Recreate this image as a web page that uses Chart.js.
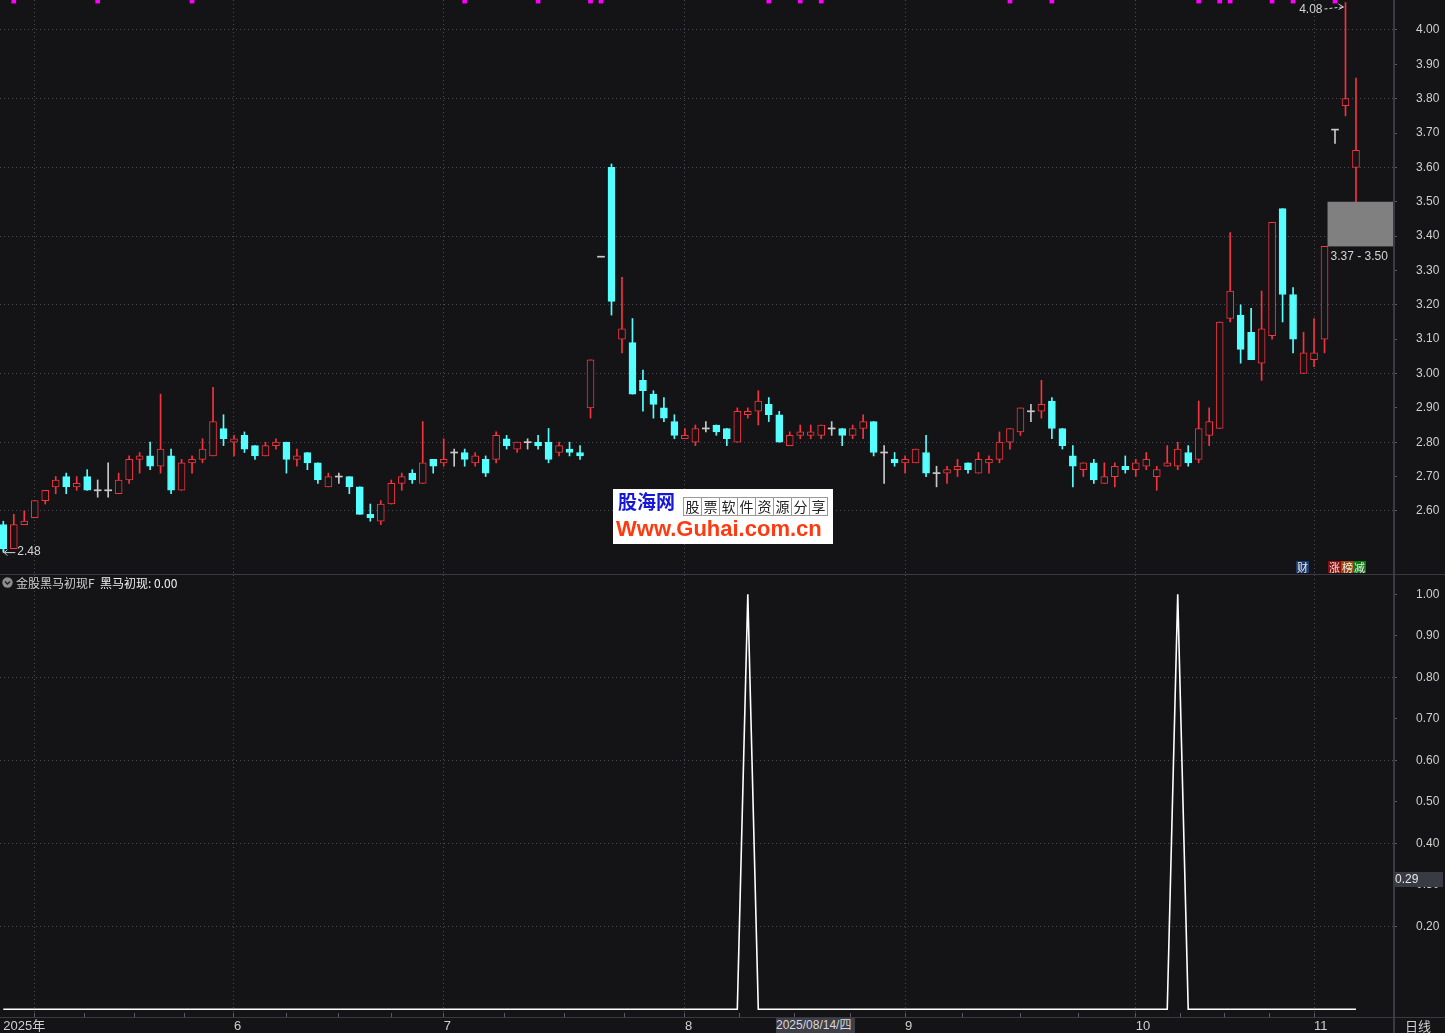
<!DOCTYPE html>
<html><head><meta charset="utf-8">
<script src="https://cdn.jsdelivr.net/npm/chart.js@4.4.0/dist/chart.umd.min.js"></script>
<style>
html,body{margin:0;padding:0;background:#141416;width:1445px;height:1033px;overflow:hidden;position:relative;
 font-family:"Liberation Sans","Noto Sans CJK SC",sans-serif;}
canvas{position:absolute;left:0;}
#top{top:0;}
#bot{top:575px;}
.ln{position:absolute;background:#3a3a44;}
.txt{position:absolute;white-space:nowrap;color:#cfcfcf;font-size:12px;line-height:14px;}
.tag{position:absolute;top:561px;height:12px;width:13px;font:11px/12px "Noto Sans CJK SC";color:#e8e8e8;text-align:center;}
#wm{position:absolute;left:613px;top:489px;width:220px;height:55px;background:#fff;}
#wm .a{position:absolute;left:5px;top:1px;font:bold 19px/22px "Noto Sans CJK SC";color:#1616d8;}
#wm .cells{position:absolute;left:71px;top:8px;display:flex;}
#wm .cells span{display:block;width:17px;height:17px;border:1px solid #9a9a9a;margin-left:-1px;font:14px/17px "Noto Sans CJK SC";color:#222;text-align:center;}
#wm .b{position:absolute;left:3px;top:27px;font:bold 22px/26px "Liberation Sans",Arial,sans-serif;color:#ff3a10;}
</style></head>
<body>
<canvas id="top" width="1445" height="574"></canvas>
<canvas id="bot" width="1445" height="458"></canvas>

<div class="ln" style="left:0;top:574px;width:1445px;height:1px;"></div>
<div class="ln" style="left:0;top:1017px;width:1445px;height:1px;"></div>
<div class="ln" style="left:1393px;top:0;width:2px;height:1033px;"></div>

<div id="wm"><div class="a">股海网</div>
<div class="cells"><span>股</span><span>票</span><span>软</span><span>件</span><span>资</span><span>源</span><span>分</span><span>享</span></div>
<div class="b">Www.Guhai.com.cn</div></div>

<div class="tag" style="left:1296px;background:#1b3b6c;">财</div>
<div class="tag" style="left:1328px;background:#8a0c0c;">涨</div>
<div class="tag" style="left:1341px;background:#9a4a0c;">榜</div>
<div class="tag" style="left:1353px;background:#0b7a12;">减</div>

<svg style="position:absolute;left:2px;top:577px" width="11" height="11"><circle cx="5.5" cy="5.5" r="5.2" fill="#8c8c8c"/><path d="M3 4.5 L5.5 7 L8 4.5" stroke="#1e1e1e" stroke-width="1.4" fill="none"/></svg>
<div class="txt" style="left:16px;top:576px;font-family:'Noto Sans CJK SC';">金股黑马初现F&nbsp; <span style="color:#f0f0f0">黑马初现: 0.00</span></div>

<div class="txt" style="left:776px;top:1018px;height:15px;width:79px;background:#3e3e48;color:#d8d8d8;font-family:'Liberation Sans','Noto Sans CJK SC';line-height:15px;">2025/08/14/四</div>
<div class="txt" style="left:1405px;top:1018px;font-family:'Noto Sans CJK SC';font-size:13px;line-height:15px;">日线</div>
<div class="txt" style="left:1395px;top:872px;width:48px;height:15px;background:#3a3a44;color:#e6e6e6;line-height:15px;font-family:'Liberation Sans';font-size:12px;">0.29</div>

<script>
// ---------------- data ----------------
const open = [
 2.56,2.49,2.56,2.58,2.63,2.67,2.70,2.67,2.70,2.66,
 2.66,2.65,2.69,2.75,2.76,2.73,2.76,2.66,2.74,2.75,
 2.76,2.84,2.80,2.82,2.79,2.76,2.79,2.80,2.75,2.77,
 2.74,2.67,2.70,2.70,2.67,2.59,2.57,2.62,2.68,2.71,
 2.68,2.75,2.74,2.77,2.77,2.74,2.75,2.75,2.81,2.78,
 2.80,2.80,2.80,2.77,2.78,2.77,2.90,3.34,3.60,3.10,
 3.09,2.98,2.94,2.90,2.86,2.81,2.80,2.84,2.85,2.84,
 2.80,2.88,2.89,2.91,2.88,2.79,2.82,2.82,2.82,2.84,
 2.84,2.82,2.84,2.86,2.77,2.75,2.74,2.74,2.77,2.71,
 2.71,2.72,2.74,2.71,2.74,2.75,2.80,2.83,2.89,2.89,
 2.92,2.84,2.76,2.72,2.74,2.68,2.70,2.73,2.72,2.73,
 2.70,2.73,2.73,2.77,2.75,2.82,2.84,3.16,3.17,3.12,
 3.03,3.11,3.48,3.23,3.00,3.04,3.10,3.71,3.78,3.60];
const high = [
 2.57,2.59,2.60,2.63,2.66,2.70,2.71,2.70,2.72,2.69,
 2.74,2.71,2.76,2.77,2.80,2.94,2.78,2.75,2.76,2.81,
 2.96,2.88,2.82,2.83,2.79,2.80,2.81,2.80,2.78,2.77,
 2.74,2.71,2.71,2.70,2.67,2.62,2.63,2.69,2.71,2.72,
 2.86,2.75,2.81,2.78,2.78,2.77,2.76,2.83,2.82,2.80,
 2.81,2.82,2.84,2.80,2.80,2.79,3.04,3.34,3.61,3.28,
 3.16,3.01,2.95,2.93,2.88,2.84,2.85,2.86,2.85,2.84,
 2.90,2.90,2.95,2.93,2.89,2.83,2.85,2.85,2.85,2.86,
 2.84,2.85,2.88,2.86,2.79,2.77,2.76,2.78,2.82,2.73,
 2.73,2.75,2.74,2.77,2.76,2.83,2.84,2.90,2.91,2.98,
 2.93,2.84,2.79,2.74,2.75,2.74,2.74,2.76,2.75,2.77,
 2.73,2.79,2.80,2.79,2.92,2.90,3.15,3.41,3.20,3.19,
 3.24,3.44,3.48,3.25,3.12,3.16,3.37,3.71,4.08,3.86];
const low = [
 2.48,2.49,2.56,2.58,2.62,2.65,2.65,2.66,2.66,2.64,
 2.64,2.65,2.68,2.71,2.72,2.71,2.65,2.66,2.71,2.74,
 2.76,2.79,2.76,2.77,2.75,2.76,2.78,2.71,2.73,2.72,
 2.68,2.67,2.68,2.65,2.59,2.57,2.56,2.62,2.66,2.68,
 2.68,2.71,2.73,2.73,2.73,2.73,2.70,2.74,2.78,2.77,
 2.78,2.78,2.74,2.76,2.76,2.75,2.87,3.34,3.17,3.06,
 2.94,2.89,2.87,2.86,2.81,2.81,2.79,2.83,2.82,2.79,
 2.80,2.87,2.85,2.86,2.80,2.79,2.81,2.81,2.81,2.82,
 2.79,2.81,2.81,2.76,2.68,2.73,2.71,2.74,2.70,2.67,
 2.68,2.70,2.71,2.71,2.71,2.74,2.78,2.82,2.86,2.87,
 2.81,2.78,2.67,2.70,2.68,2.68,2.67,2.71,2.70,2.72,
 2.66,2.73,2.72,2.73,2.74,2.79,2.84,3.15,3.03,3.04,
 2.98,3.10,3.15,3.06,3.00,3.02,3.06,3.67,3.75,3.50];
const close = [
 2.49,2.56,2.57,2.63,2.66,2.69,2.67,2.68,2.66,2.66,
 2.66,2.69,2.75,2.76,2.73,2.78,2.66,2.74,2.75,2.78,
 2.86,2.81,2.81,2.78,2.76,2.79,2.80,2.75,2.76,2.74,
 2.69,2.70,2.70,2.67,2.59,2.58,2.62,2.68,2.70,2.69,
 2.74,2.73,2.75,2.77,2.75,2.76,2.71,2.82,2.79,2.80,
 2.80,2.79,2.75,2.79,2.77,2.76,3.04,3.34,3.21,3.13,
 2.94,2.95,2.91,2.87,2.82,2.82,2.84,2.84,2.83,2.81,
 2.89,2.89,2.92,2.88,2.80,2.82,2.83,2.83,2.85,2.84,
 2.82,2.84,2.86,2.77,2.77,2.74,2.75,2.78,2.71,2.71,
 2.72,2.73,2.72,2.75,2.75,2.80,2.84,2.90,2.89,2.91,
 2.84,2.79,2.73,2.74,2.69,2.70,2.73,2.72,2.74,2.75,
 2.72,2.74,2.78,2.74,2.84,2.86,3.15,3.24,3.07,3.04,
 3.13,3.44,3.23,3.10,3.06,3.06,3.37,3.71,3.80,3.65];
// indicator 黑马初现
const signal = [
 0,0,0,0,0,0,0,0,0,0, 0,0,0,0,0,0,0,0,0,0,
 0,0,0,0,0,0,0,0,0,0, 0,0,0,0,0,0,0,0,0,0,
 0,0,0,0,0,0,0,0,0,0, 0,0,0,0,0,0,0,0,0,0,
 0,0,0,0,0,0,0,0,0,0, 0,1,0,0,0,0,0,0,0,0,
 0,0,0,0,0,0,0,0,0,0, 0,0,0,0,0,0,0,0,0,0,
 0,0,0,0,0,0,0,0,0,0, 0,0,1,0,0,0,0,0,0,0,
 0,0,0,0,0,0,0,0,0,0];
// first trading day of each month (candle index) and labels
const monthStarts = [3, 22, 42, 65, 86, 108, 125];
const monthLabels = ['', '6', '7', '8', '9', '10', '11'];
const yearLabel = '2025年';
const priceTicks = [2.60,2.70,2.80,2.90,3.00,3.10,3.20,3.30,3.40,3.50,3.60,3.70,3.80,3.90,4.00];
const signalTicks = [0.20,0.30,0.40,0.50,0.60,0.70,0.80,0.90,1.00];
const topMarks = [1, 9, 18, 44, 51, 56, 57, 73, 76, 78, 96, 100, 114, 116, 117, 121, 123, 127];
const gapFrom = 126, gapLow = 3.37, gapHigh = 3.50;
const lowMark = {i: 0, v: 2.48};
const highMark = {i: 128, v: 4.08};

// ---------------- styling ----------------
const RED = '#f5333f', CYAN = '#55ffff', GRAY = '#c8c8c8', BG = '#141416';
const GRIDC = '#4a4a54', TICKC = '#5a5a66', LABC = '#cfcfcf';
const NUMFONT = '"Liberation Sans","Noto Sans CJK SC",sans-serif';
Chart.defaults.font.family = NUMFONT;
Chart.defaults.font.size = 12;
Chart.defaults.color = LABC;

const N = close.length;
const XMIN = -0.3147, XMAX = 132.53;
const YMIN = 2.4163, YMAX = 4.0873;
const BMIN = -0.0089, BMAX = 1.0465;
const idx = [...Array(N).keys()];
const col = i => close[i] > open[i] ? RED : (close[i] < open[i] ? CYAN : GRAY);

const bodyData = idx.map(i => ({x: i, y: open[i] === close[i]
  ? [open[i] - 0.0015, open[i] + 0.0015]
  : [Math.min(open[i], close[i]), Math.max(open[i], close[i])]}));
const wickData = idx.map(i => ({x: i, y: [low[i], high[i]]}));
const markData = topMarks.map(i => ({x: i, y: [YMAX - 0.009, YMAX]}));

const noPadY = s => { s.width = 52; s.paddingTop = 0; s.paddingBottom = 0; s.paddingLeft = 0; s.paddingRight = 0; };

const annot = {
  id: 'annot',
  beforeDatasetsDraw(chart) {
    const {ctx, chartArea, scales: {x, y}} = chart;
    const x1 = x.getPixelForValue(gapFrom) + 3;
    const yt = y.getPixelForValue(gapHigh), yb = y.getPixelForValue(gapLow);
    ctx.save();
    ctx.fillStyle = '#808080';
    ctx.fillRect(x1, yt, chartArea.right - x1, yb - yt);
    ctx.restore();
  },
  afterDatasetsDraw(chart) {
    const {ctx, scales: {x, y}} = chart;
    ctx.save();
    ctx.font = '12px ' + NUMFONT;
    ctx.fillStyle = '#d4d4d4';
    const x1 = x.getPixelForValue(gapFrom) + 3;
    const yb = y.getPixelForValue(gapLow);
    ctx.textBaseline = 'top'; ctx.textAlign = 'left';
    ctx.fillText(gapLow.toFixed(2) + ' - ' + gapHigh.toFixed(2), x1 + 3, yb + 4);
    const lx = x.getPixelForValue(lowMark.i), ly = y.getPixelForValue(lowMark.v);
    ctx.textBaseline = 'middle';
    ctx.fillText(lowMark.v.toFixed(2), lx + 14, ly);
    ctx.strokeStyle = '#d4d4d4'; ctx.lineWidth = 1;
    ctx.beginPath();
    ctx.moveTo(lx + 1, ly + 0.5); ctx.lineTo(lx + 12, ly + 0.5);
    ctx.moveTo(lx + 1, ly + 0.5); ctx.lineTo(lx + 4, ly - 2.5);
    ctx.moveTo(lx + 1, ly + 0.5); ctx.lineTo(lx + 4, ly + 3.5);
    ctx.moveTo(lx + 0.5, ly - 4); ctx.lineTo(lx + 0.5, ly + 1);
    ctx.stroke();
    const hx = x.getPixelForValue(highMark.i), hy = y.getPixelForValue(highMark.v);
    ctx.textAlign = 'right';
    ctx.fillText(highMark.v.toFixed(2), hx - 23, hy + 7);
    ctx.setLineDash([3, 2]);
    ctx.beginPath(); ctx.moveTo(hx - 21, hy + 6.5); ctx.lineTo(hx - 3, hy + 4.5); ctx.stroke();
    ctx.setLineDash([]);
    ctx.beginPath(); ctx.moveTo(hx - 7, hy + 1.5); ctx.lineTo(hx - 2, hy + 4.5); ctx.lineTo(hx - 7, hy + 7); ctx.stroke();
    ctx.restore();
  }
};

new Chart(document.getElementById('top'), {
  type: 'bar',
  data: {
    datasets: [
      {data: markData, backgroundColor: '#ff00ff', barThickness: 4, grouped: false, order: 0},
      {data: bodyData, backgroundColor: idx.map(i => close[i] > open[i] ? BG : col(i)),
       borderColor: idx.map(col), borderWidth: idx.map(i => open[i] === close[i] ? 0 : 1),
       borderSkipped: false, barThickness: 7, grouped: false, order: 1},
      {data: wickData, backgroundColor: idx.map(col), barThickness: 1, grouped: false, order: 2}
    ]
  },
  options: {
    responsive: false, animation: false,
    layout: {padding: 0, autoPadding: false},
    plugins: {legend: {display: false}, tooltip: {enabled: false}},
    scales: {
      x: {type: 'linear', min: XMIN, max: XMAX, offset: false,
          afterBuildTicks: s => { s.ticks = monthStarts.map(v => ({value: v})); },
          afterFit: s => { s.height = 0; s.paddingLeft = 0; s.paddingRight = 0; s.paddingTop = 0; s.paddingBottom = 0; },
          ticks: {display: false},
          grid: {color: GRIDC, drawTicks: false, lineWidth: 1, offset: false},
          border: {display: false, dash: [1, 3]}},
      y: {type: 'linear', position: 'right', min: YMIN, max: YMAX,
          afterBuildTicks: s => { s.ticks = priceTicks.map(v => ({value: v})); },
          afterFit: noPadY,
          ticks: {callback: v => Number(v).toFixed(2), padding: 19, color: LABC, font: {size: 12}},
          grid: {color: c => (Math.round(c.tick.value * 10) % 2 === 0) ? GRIDC : 'transparent',
                 tickColor: TICKC, tickLength: 4, drawTicks: true, offset: false},
          border: {display: false, dash: [1, 3]}}
    }
  },
  plugins: [annot]
});

// bottom panel
const quarterTicks = [];
for (let k = 0; k < monthStarts.length - 1; k++) {
  const a = monthStarts[k], b = monthStarts[k + 1];
  for (let q = 1; q < 4; q++) quarterTicks.push(a + (b - a) * q / 4);
}
const xTickVals = [0, ...monthStarts, ...quarterTicks];
const labelFor = v => {
  if (v === 0) return yearLabel;
  const m = monthStarts.indexOf(v);
  return m >= 0 ? monthLabels[m] : '';
};

new Chart(document.getElementById('bot'), {
  type: 'line',
  data: {
    datasets: [{data: idx.map(i => ({x: i, y: signal[i]})), borderColor: '#ffffff', borderWidth: 1.6,
                pointRadius: 0, tension: 0, fill: false}]
  },
  options: {
    responsive: false, animation: false,
    layout: {padding: 0, autoPadding: false},
    plugins: {legend: {display: false}, tooltip: {enabled: false}},
    scales: {
      x: {type: 'linear', min: XMIN, max: XMAX, offset: false,
          afterBuildTicks: s => { s.ticks = xTickVals.map(v => ({value: v})); },
          afterFit: s => { s.height = 20; s.paddingLeft = 0; s.paddingRight = 0; s.paddingTop = 0; s.paddingBottom = 0; },
          ticks: {callback: v => labelFor(v), autoSkip: false, maxRotation: 0, minRotation: 0,
                  align: 'start', padding: 2, color: LABC, font: {size: 13}},
          grid: {color: c => monthStarts.includes(c.tick.value) ? GRIDC : 'transparent',
                 tickColor: c => c.tick.value === 0 ? 'transparent' : TICKC, tickLength: 4, drawTicks: true, offset: false},
          border: {display: false, dash: [1, 3]}},
      y: {type: 'linear', position: 'right', min: BMIN, max: BMAX,
          afterBuildTicks: s => { s.ticks = signalTicks.map(v => ({value: v})); },
          afterFit: noPadY,
          ticks: {callback: v => Number(v).toFixed(2), padding: 19, color: LABC, font: {size: 12}},
          grid: {color: c => { const t = Math.round(c.tick.value * 10); return (t % 2 === 0 && t < 10) ? GRIDC : 'transparent'; },
                 tickColor: TICKC, tickLength: 4, drawTicks: true, offset: false},
          border: {display: false, dash: [1, 3]}}
    }
  }
});
</script>
</body></html>
